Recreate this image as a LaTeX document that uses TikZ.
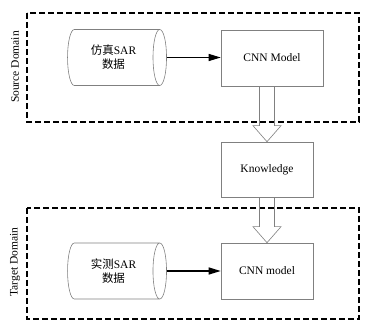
\documentclass[tikz,border=0pt]{standalone}
\usepackage{fontspec}
\setmainfont{Liberation Serif}
\newfontfamily\cjk{Noto Sans CJK SC}
\usetikzlibrary{shapes.geometric,arrows.meta,positioning,calc}
\definecolor{boxgray}{HTML}{808080}

\tikzset{
  domainbox/.style={draw=black, line width=1.2pt, dash pattern=on 6pt off 3pt},
  modelbox/.style={draw=boxgray, line width=0.6pt, rectangle, inner sep=0pt, font=\fontsize{11.5}{14}\selectfont},
  datadrum/.style={draw=boxgray, line width=0.6pt, cylinder, aspect=0.55, inner sep=0pt,
    minimum width=56pt, minimum height=99pt, align=center, font=\fontsize{11.5}{14}\selectfont},
  feed/.style={draw=black, line width=1.2pt, -{Triangle[length=12pt,width=7pt]}},
  fatarr/.style={draw=boxgray, line width=0.6pt, line join=miter},
  domainlabel/.style={rotate=90, font=\fontsize{11.5}{14}\selectfont}
}

\newcommand{\fatarrow}[2]{%
  \draw[fatarr] ($(#1.south -| #2.north)+(-7.5,0)$) -- ($(#2.north)+(-7.5,-16)$)
    -- ($(#2.north)+(-14,-16)$) -- (#2.north) -- ($(#2.north)+(14,-16)$)
    -- ($(#2.north)+(7.5,-16)$) -- ($(#1.south -| #2.north)+(7.5,0)$);}

\begin{document}
\begin{tikzpicture}[x=1pt,y=-1pt]
\useasboundingbox (0,0) rectangle (373,323);

% Source Domain
\draw[domainbox] (27,13) rectangle (359,122);
\node[domainlabel] (srclabel) at (15,67) {Source Domain};
\node[datadrum] (simdata) at (113.5,57.5) {{\cjk 仿真}SAR\\{\cjk 数据}};
\node[modelbox, minimum width=102pt, minimum height=56pt] (srccnn) at (272,58) {CNN Model};
\draw[feed] (simdata.east) -- (srccnn.west |- simdata.east);

% Knowledge
\node[modelbox, minimum width=92pt, minimum height=55pt] (know) at (267,169.5) {Knowledge};
\fatarrow{srccnn}{know}

% Target Domain
\draw[domainbox] (27,208) rectangle (359,319);
\node[domainlabel] (tgtlabel) at (15,262) {Target Domain};
\node[datadrum] (realdata) at (113.5,271) {{\cjk 实测}SAR\\{\cjk 数据}};
\node[modelbox, minimum width=92pt, minimum height=56pt] (tgtcnn) at (267,271) {CNN model};
\draw[feed] (realdata.east) -- (tgtcnn.west |- realdata.east);
\fatarrow{know}{tgtcnn}
\end{tikzpicture}
\end{document}
